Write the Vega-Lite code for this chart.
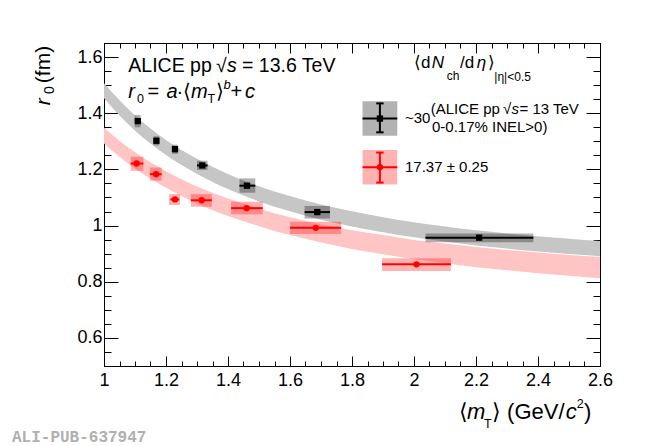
{
  "$schema": "https://vega.github.io/schema/vega-lite/v6.json",
  "width": 496,
  "height": 323,
  "autosize": {"type": "none"},
  "padding": {"left": 104, "top": 43, "right": 50, "bottom": 80},
  "background": "white",
  "config": {
    "view": {"stroke": "black", "strokeWidth": 1},
    "axis": {
      "domainColor": "black",
      "domainWidth": 1,
      "tickColor": "black",
      "tickWidth": 1,
      "labelColor": "black",
      "labelFont": "Liberation Sans",
      "labelFontSize": 18,
      "labelFlush": false,
      "labelOverlap": false,
      "labelBound": false,
      "grid": false,
      "title": null,
      "zindex": 1
    }
  },
  "datasets": {
    "pts": [
      {"set": "b", "role": "data", "x": 1.109, "y": 1.372, "bx1": 1.099, "bx2": 1.118, "by1": 1.350, "by2": 1.394, "hx1": 1.100, "hx2": 1.118, "ey1": 1.364, "ey2": 1.380},
      {"set": "b", "role": "data", "x": 1.169, "y": 1.302, "bx1": 1.160, "bx2": 1.178, "by1": 1.285, "by2": 1.318, "hx1": 1.161, "hx2": 1.177, "ey1": 1.294, "ey2": 1.310},
      {"set": "b", "role": "data", "x": 1.229, "y": 1.272, "bx1": 1.220, "bx2": 1.238, "by1": 1.255, "by2": 1.288, "hx1": 1.221, "hx2": 1.237, "ey1": 1.262, "ey2": 1.282},
      {"set": "b", "role": "data", "x": 1.317, "y": 1.214, "bx1": 1.300, "bx2": 1.334, "by1": 1.198, "by2": 1.231, "hx1": 1.300, "hx2": 1.334, "ey1": 1.207, "ey2": 1.221},
      {"set": "b", "role": "data", "x": 1.461, "y": 1.142, "bx1": 1.437, "bx2": 1.488, "by1": 1.117, "by2": 1.168, "hx1": 1.437, "hx2": 1.488, "ey1": 1.135, "ey2": 1.149},
      {"set": "b", "role": "data", "x": 1.688, "y": 1.048, "bx1": 1.647, "bx2": 1.729, "by1": 1.025, "by2": 1.070, "hx1": 1.647, "hx2": 1.729, "ey1": 1.042, "ey2": 1.054},
      {"set": "b", "role": "data", "x": 2.210, "y": 0.957, "bx1": 2.037, "bx2": 2.385, "by1": 0.941, "by2": 0.972, "hx1": 2.037, "hx2": 2.385, "ey1": 0.951, "ey2": 0.963},
      {"set": "r", "role": "data", "x": 1.105, "y": 1.221, "bx1": 1.086, "bx2": 1.127, "by1": 1.195, "by2": 1.245, "hx1": 1.086, "hx2": 1.127, "ey1": 1.213, "ey2": 1.229},
      {"set": "r", "role": "data", "x": 1.168, "y": 1.183, "bx1": 1.148, "bx2": 1.186, "by1": 1.160, "by2": 1.207, "hx1": 1.148, "hx2": 1.186, "ey1": 1.176, "ey2": 1.190},
      {"set": "r", "role": "data", "x": 1.229, "y": 1.093, "bx1": 1.210, "bx2": 1.245, "by1": 1.073, "by2": 1.112, "hx1": 1.214, "hx2": 1.243, "ey1": 1.088, "ey2": 1.098},
      {"set": "r", "role": "data", "x": 1.315, "y": 1.090, "bx1": 1.280, "bx2": 1.348, "by1": 1.067, "by2": 1.112, "hx1": 1.280, "hx2": 1.348, "ey1": 1.085, "ey2": 1.095},
      {"set": "r", "role": "data", "x": 1.460, "y": 1.062, "bx1": 1.410, "bx2": 1.512, "by1": 1.040, "by2": 1.085, "hx1": 1.410, "hx2": 1.512, "ey1": 1.057, "ey2": 1.067},
      {"set": "r", "role": "data", "x": 1.683, "y": 0.992, "bx1": 1.600, "bx2": 1.765, "by1": 0.970, "by2": 1.014, "hx1": 1.600, "hx2": 1.765, "ey1": 0.987, "ey2": 0.997},
      {"set": "r", "role": "data", "x": 2.008, "y": 0.862, "bx1": 1.897, "bx2": 2.119, "by1": 0.838, "by2": 0.884, "hx1": 1.897, "hx2": 2.119, "ey1": 0.857, "ey2": 0.867},
      {"set": "b", "role": "legend", "x": 1.890, "y": 1.381, "bx1": 1.834, "bx2": 1.946, "by1": 1.320, "by2": 1.443, "hx1": 1.834, "hx2": 1.946, "ey1": 1.332, "ey2": 1.435, "cx1": 1.878, "cx2": 1.902},
      {"set": "r", "role": "legend", "x": 1.890, "y": 1.208, "bx1": 1.834, "bx2": 1.946, "by1": 1.146, "by2": 1.269, "hx1": 1.834, "hx2": 1.946, "ey1": 1.153, "ey2": 1.260, "cx1": 1.878, "cx2": 1.902}
    ],
    "bandB": [
      {"x": 1.0, "lo": 1.453, "hi": 1.507},
      {"x": 1.05, "lo": 1.392, "hi": 1.446},
      {"x": 1.1, "lo": 1.338, "hi": 1.392},
      {"x": 1.15, "lo": 1.292, "hi": 1.346},
      {"x": 1.2, "lo": 1.251, "hi": 1.305},
      {"x": 1.3, "lo": 1.184, "hi": 1.238},
      {"x": 1.4, "lo": 1.130, "hi": 1.184},
      {"x": 1.5, "lo": 1.086, "hi": 1.140},
      {"x": 1.6, "lo": 1.051, "hi": 1.105},
      {"x": 1.7, "lo": 1.021, "hi": 1.075},
      {"x": 1.8, "lo": 0.997, "hi": 1.051},
      {"x": 1.9, "lo": 0.976, "hi": 1.030},
      {"x": 2.0, "lo": 0.958, "hi": 1.012},
      {"x": 2.1, "lo": 0.943, "hi": 0.997},
      {"x": 2.2, "lo": 0.929, "hi": 0.983},
      {"x": 2.3, "lo": 0.918, "hi": 0.972},
      {"x": 2.4, "lo": 0.908, "hi": 0.962},
      {"x": 2.5, "lo": 0.899, "hi": 0.953},
      {"x": 2.6, "lo": 0.891, "hi": 0.945}
    ],
    "bandR": [
      {"x": 1.0, "lo": 1.292, "hi": 1.348},
      {"x": 1.05, "lo": 1.245, "hi": 1.302},
      {"x": 1.1, "lo": 1.203, "hi": 1.261},
      {"x": 1.15, "lo": 1.167, "hi": 1.225},
      {"x": 1.2, "lo": 1.135, "hi": 1.193},
      {"x": 1.3, "lo": 1.079, "hi": 1.139},
      {"x": 1.4, "lo": 1.034, "hi": 1.096},
      {"x": 1.5, "lo": 0.998, "hi": 1.060},
      {"x": 1.6, "lo": 0.966, "hi": 1.030},
      {"x": 1.7, "lo": 0.940, "hi": 1.004},
      {"x": 1.8, "lo": 0.917, "hi": 0.983},
      {"x": 1.9, "lo": 0.898, "hi": 0.966},
      {"x": 2.0, "lo": 0.881, "hi": 0.949},
      {"x": 2.1, "lo": 0.866, "hi": 0.936},
      {"x": 2.2, "lo": 0.852, "hi": 0.924},
      {"x": 2.3, "lo": 0.841, "hi": 0.913},
      {"x": 2.4, "lo": 0.830, "hi": 0.904},
      {"x": 2.5, "lo": 0.821, "hi": 0.895},
      {"x": 2.6, "lo": 0.812, "hi": 0.888}
    ]
  },
  "layer": [
    {
      "data": {"name": "pts"},
      "mark": {"type": "point", "opacity": 0},
      "encoding": {
        "x": {
          "field": "x", "type": "quantitative",
          "scale": {"domain": [1, 2.6], "nice": false, "zero": false},
          "axis": {"orient": "bottom", "values": [1, 1.2, 1.4, 1.6, 1.8, 2, 2.2, 2.4, 2.6], "format": "~g", "tickSize": -10, "labelPadding": 15}
        },
        "y": {
          "field": "y", "type": "quantitative",
          "scale": {"domain": [0.5, 1.65], "nice": false, "zero": false},
          "axis": {"orient": "left", "values": [0.6, 0.8, 1, 1.2, 1.4, 1.6], "format": "~g", "tickSize": -14, "labelPadding": 16}
        }
      }
    },
    {
      "data": {"name": "bandB"},
      "mark": {"type": "area", "color": "#c6c6c6", "interpolate": "monotone"},
      "encoding": {
        "x": {"field": "x", "type": "quantitative", "axis": null},
        "y": {"field": "lo", "type": "quantitative", "axis": null},
        "y2": {"field": "hi"}
      }
    },
    {
      "data": {"name": "bandR"},
      "mark": {"type": "area", "color": "#ffc4c4", "interpolate": "monotone"},
      "encoding": {
        "x": {"field": "x", "type": "quantitative", "axis": null},
        "y": {"field": "lo", "type": "quantitative", "axis": null},
        "y2": {"field": "hi"}
      }
    },
    {
      "data": {"name": "pts"},
      "mark": {"type": "rect", "opacity": 0.3},
      "encoding": {
        "x": {"field": "bx1", "type": "quantitative", "axis": null},
        "x2": {"field": "bx2"},
        "y": {"field": "by1", "type": "quantitative", "axis": null},
        "y2": {"field": "by2"},
        "color": {"field": "set", "type": "nominal", "scale": {"domain": ["b", "r"], "range": ["#000000", "#ff0000"]}, "legend": null}
      }
    },
    {
      "data": {"name": "pts"},
      "mark": {"type": "rule", "strokeWidth": 2},
      "encoding": {
        "x": {"field": "hx1", "type": "quantitative", "axis": null},
        "x2": {"field": "hx2"},
        "y": {"field": "y", "type": "quantitative", "axis": null},
        "color": {"field": "set", "type": "nominal", "legend": null}
      }
    },
    {
      "data": {"name": "pts"},
      "mark": {"type": "rule", "strokeWidth": 2},
      "encoding": {
        "x": {"field": "x", "type": "quantitative", "axis": null},
        "y": {"field": "ey1", "type": "quantitative", "axis": null},
        "y2": {"field": "ey2"},
        "color": {"field": "set", "type": "nominal", "legend": null}
      }
    },
    {
      "data": {"name": "pts"},
      "transform": [{"filter": "datum.role == 'legend'"}],
      "mark": {"type": "rule", "strokeWidth": 2},
      "encoding": {
        "x": {"field": "cx1", "type": "quantitative", "axis": null},
        "x2": {"field": "cx2"},
        "y": {"field": "ey1", "type": "quantitative", "axis": null},
        "color": {"field": "set", "type": "nominal", "legend": null}
      }
    },
    {
      "data": {"name": "pts"},
      "transform": [{"filter": "datum.role == 'legend'"}],
      "mark": {"type": "rule", "strokeWidth": 2},
      "encoding": {
        "x": {"field": "cx1", "type": "quantitative", "axis": null},
        "x2": {"field": "cx2"},
        "y": {"field": "ey2", "type": "quantitative", "axis": null},
        "color": {"field": "set", "type": "nominal", "legend": null}
      }
    },
    {
      "data": {"name": "pts"},
      "mark": {"type": "point", "filled": true, "opacity": 1, "size": 40},
      "encoding": {
        "x": {"field": "x", "type": "quantitative", "axis": null},
        "y": {"field": "y", "type": "quantitative", "axis": null},
        "color": {"field": "set", "type": "nominal", "legend": null},
        "shape": {"field": "set", "type": "nominal", "scale": {"domain": ["b", "r"], "range": ["square", "circle"]}, "legend": null}
      }
    },
    {
      "data": {"values": [
        {"x": 1.0784, "y": 1.5463, "t": "ALICE pp"},
        {"x": 1.3613, "y": 1.5463, "t": "√"},
        {"x": 1.4452, "y": 1.5463, "t": "= 13.6 TeV"}
      ]},
      "mark": {"type": "text", "align": "left", "baseline": "alphabetic", "font": "Liberation Sans", "fontSize": 19.5, "color": "black"},
      "encoding": {
        "x": {"field": "x", "type": "quantitative", "axis": null},
        "y": {"field": "y", "type": "quantitative", "axis": null},
        "text": {"field": "t"}
      }
    },
    {
      "data": {"values": [
        {"x": 1.3968, "y": 1.5463, "t": "s"}
      ]},
      "mark": {"type": "text", "align": "left", "baseline": "alphabetic", "font": "Liberation Sans", "fontSize": 19.5, "fontStyle": "italic", "color": "black"},
      "encoding": {
        "x": {"field": "x", "type": "quantitative", "axis": null},
        "y": {"field": "y", "type": "quantitative", "axis": null},
        "text": {"field": "t"}
      }
    },
    {
      "data": {"values": [
        {"x": 1.1403, "y": 1.4527, "t": "="},
        {"x": 1.2339, "y": 1.4527, "t": "·⟨"},
        {"x": 1.3597, "y": 1.4527, "t": "⟩"},
        {"x": 1.4081, "y": 1.4527, "t": "+"}
      ]},
      "mark": {"type": "text", "align": "left", "baseline": "alphabetic", "font": "Liberation Sans", "fontSize": 20, "color": "black"},
      "encoding": {
        "x": {"field": "x", "type": "quantitative", "axis": null},
        "y": {"field": "y", "type": "quantitative", "axis": null},
        "text": {"field": "t"}
      }
    },
    {
      "data": {"values": [
        {"x": 1.0784, "y": 1.4527, "t": "r"},
        {"x": 1.2016, "y": 1.4527, "t": "a"},
        {"x": 1.2806, "y": 1.4527, "t": "m"},
        {"x": 1.4548, "y": 1.4527, "t": "c"}
      ]},
      "mark": {"type": "text", "align": "left", "baseline": "alphabetic", "font": "Liberation Sans", "fontSize": 20, "fontStyle": "italic", "color": "black"},
      "encoding": {
        "x": {"field": "x", "type": "quantitative", "axis": null},
        "y": {"field": "y", "type": "quantitative", "axis": null},
        "text": {"field": "t"}
      }
    },
    {
      "data": {"values": [
        {"x": 1.1065, "y": 1.4359, "t": "0"},
        {"x": 1.3339, "y": 1.4359, "t": "T"},
        {"x": 2.2258, "y": 0.2783, "t": "T"},
        {"x": 2.5248, "y": 0.3495, "t": "2"}
      ]},
      "mark": {"type": "text", "align": "left", "baseline": "alphabetic", "font": "Liberation Sans", "fontSize": 12.5, "color": "black"},
      "encoding": {
        "x": {"field": "x", "type": "quantitative", "axis": null},
        "y": {"field": "y", "type": "quantitative", "axis": null},
        "text": {"field": "t"}
      }
    },
    {
      "data": {"values": [
        {"x": 1.3855, "y": 1.4858, "t": "b"}
      ]},
      "mark": {"type": "text", "align": "left", "baseline": "alphabetic", "font": "Liberation Sans", "fontSize": 13, "fontStyle": "italic", "color": "black"},
      "encoding": {
        "x": {"field": "x", "type": "quantitative", "axis": null},
        "y": {"field": "y", "type": "quantitative", "axis": null},
        "text": {"field": "t"}
      }
    },
    {
      "data": {"values": [
        {"x": 2.0539, "y": 1.3968, "t": "(ALICE pp"},
        {"x": 2.2871, "y": 1.3968, "t": "√"},
        {"x": 2.3403, "y": 1.3968, "t": "= 13 TeV"},
        {"x": 2.058, "y": 1.3317, "t": "0-0.17% INEL>0)"},
        {"x": 1.971, "y": 1.3637, "t": "~30"},
        {"x": 1.971, "y": 1.1915, "t": "17.37 ± 0.25"}
      ]},
      "mark": {"type": "text", "align": "left", "baseline": "alphabetic", "font": "Liberation Sans", "fontSize": 15, "color": "black"},
      "encoding": {
        "x": {"field": "x", "type": "quantitative", "axis": null},
        "y": {"field": "y", "type": "quantitative", "axis": null},
        "text": {"field": "t"}
      }
    },
    {
      "data": {"values": [
        {"x": 2.3145, "y": 1.3968, "t": "s"}
      ]},
      "mark": {"type": "text", "align": "left", "baseline": "alphabetic", "font": "Liberation Sans", "fontSize": 15, "fontStyle": "italic", "color": "black"},
      "encoding": {
        "x": {"field": "x", "type": "quantitative", "axis": null},
        "y": {"field": "y", "type": "quantitative", "axis": null},
        "text": {"field": "t"}
      }
    },
    {
      "data": {"values": [
        {"x": 2.0, "y": 1.5616, "t": "⟨d"},
        {"x": 2.1484, "y": 1.5616, "t": "/d"},
        {"x": 2.2397, "y": 1.5616, "t": "⟩"}
      ]},
      "mark": {"type": "text", "align": "left", "baseline": "alphabetic", "font": "Liberation Sans", "fontSize": 17, "color": "black"},
      "encoding": {
        "x": {"field": "x", "type": "quantitative", "axis": null},
        "y": {"field": "y", "type": "quantitative", "axis": null},
        "text": {"field": "t"}
      }
    },
    {
      "data": {"values": [
        {"x": 2.0571, "y": 1.5616, "t": "N"},
        {"x": 2.2023, "y": 1.5616, "t": "η"}
      ]},
      "mark": {"type": "text", "align": "left", "baseline": "alphabetic", "font": "Liberation Sans", "fontSize": 17, "fontStyle": "italic", "color": "black"},
      "encoding": {
        "x": {"field": "x", "type": "quantitative", "axis": null},
        "y": {"field": "y", "type": "quantitative", "axis": null},
        "text": {"field": "t"}
      }
    },
    {
      "data": {"values": [
        {"x": 2.1055, "y": 1.5178, "t": "ch"},
        {"x": 2.259, "y": 1.5153, "t": "|η|<0.5"}
      ]},
      "mark": {"type": "text", "align": "left", "baseline": "alphabetic", "font": "Liberation Sans", "fontSize": 12, "color": "black"},
      "encoding": {
        "x": {"field": "x", "type": "quantitative", "axis": null},
        "y": {"field": "y", "type": "quantitative", "axis": null},
        "text": {"field": "t"}
      }
    },
    {
      "data": {"values": [
        {"x": 2.1461, "y": 0.3103, "t": "⟨"},
        {"x": 2.2516, "y": 0.3103, "t": "⟩ (GeV/"},
        {"x": 2.5484, "y": 0.3103, "t": ")"}
      ]},
      "mark": {"type": "text", "align": "left", "baseline": "alphabetic", "font": "Liberation Sans", "fontSize": 22, "color": "black"},
      "encoding": {
        "x": {"field": "x", "type": "quantitative", "axis": null},
        "y": {"field": "y", "type": "quantitative", "axis": null},
        "text": {"field": "t"}
      }
    },
    {
      "data": {"values": [
        {"x": 2.171, "y": 0.3103, "t": "m"},
        {"x": 2.4894, "y": 0.3103, "t": "c"}
      ]},
      "mark": {"type": "text", "align": "left", "baseline": "alphabetic", "font": "Liberation Sans", "fontSize": 22, "fontStyle": "italic", "color": "black"},
      "encoding": {
        "x": {"field": "x", "type": "quantitative", "axis": null},
        "y": {"field": "y", "type": "quantitative", "axis": null},
        "text": {"field": "t"}
      }
    },
    {
      "data": {"values": [
        {"x": 0.8258, "y": 1.4288, "t": "r"}
      ]},
      "mark": {"type": "text", "align": "left", "baseline": "alphabetic", "angle": 270, "font": "Liberation Sans", "fontSize": 21, "fontStyle": "italic", "color": "black"},
      "encoding": {
        "x": {"field": "x", "type": "quantitative", "axis": null},
        "y": {"field": "y", "type": "quantitative", "axis": null},
        "text": {"field": "t"}
      }
    },
    {
      "data": {"values": [
        {"x": 0.8258, "y": 1.507, "t": "(fm)"}
      ]},
      "mark": {"type": "text", "align": "left", "baseline": "alphabetic", "angle": 270, "font": "Liberation Sans", "fontSize": 21, "color": "black"},
      "encoding": {
        "x": {"field": "x", "type": "quantitative", "axis": null},
        "y": {"field": "y", "type": "quantitative", "axis": null},
        "text": {"field": "t"}
      }
    },
    {
      "data": {"values": [
        {"x": 0.8387, "y": 1.468, "t": "0"}
      ]},
      "mark": {"type": "text", "align": "left", "baseline": "alphabetic", "angle": 270, "font": "Liberation Sans", "fontSize": 14, "color": "black"},
      "encoding": {
        "x": {"field": "x", "type": "quantitative", "axis": null},
        "y": {"field": "y", "type": "quantitative", "axis": null},
        "text": {"field": "t"}
      }
    },
    {
      "data": {"values": [
        {"x": 0.7032, "y": 0.2295, "t": "ALI-PUB-637947"}
      ]},
      "mark": {"type": "text", "align": "left", "baseline": "alphabetic", "font": "Liberation Mono", "fontWeight": "bold", "fontSize": 16, "color": "#b0b0b0"},
      "encoding": {
        "x": {"field": "x", "type": "quantitative", "axis": null},
        "y": {"field": "y", "type": "quantitative", "axis": null},
        "text": {"field": "t"}
      }
    },
    {
      "data": {"name": "pts"},
      "mark": {"type": "point", "opacity": 0},
      "encoding": {
        "x": {"field": "x", "type": "quantitative", "axis": {"orient": "bottom", "values": [1.05, 1.1, 1.15, 1.25, 1.3, 1.35, 1.45, 1.5, 1.55, 1.65, 1.7, 1.75, 1.85, 1.9, 1.95, 2.05, 2.1, 2.15, 2.25, 2.3, 2.35, 2.45, 2.5, 2.55], "labels": false, "domain": false, "tickSize": -5}},
        "y": {"field": "y", "type": "quantitative", "axis": {"orient": "left", "values": [0.55, 0.65, 0.7, 0.75, 0.85, 0.9, 0.95, 1.05, 1.1, 1.15, 1.25, 1.3, 1.35, 1.45, 1.5, 1.55], "labels": false, "domain": false, "tickSize": -7}}
      }
    },
    {
      "data": {"name": "pts"},
      "mark": {"type": "point", "opacity": 0},
      "encoding": {
        "x": {"field": "x", "type": "quantitative", "axis": {"orient": "top", "values": [1, 1.2, 1.4, 1.6, 1.8, 2, 2.2, 2.4, 2.6], "labels": false, "tickSize": -10}},
        "y": {"field": "y", "type": "quantitative", "axis": {"orient": "right", "values": [0.6, 0.8, 1, 1.2, 1.4, 1.6], "labels": false, "tickSize": -14}}
      }
    },
    {
      "data": {"name": "pts"},
      "mark": {"type": "point", "opacity": 0},
      "encoding": {
        "x": {"field": "x", "type": "quantitative", "axis": {"orient": "top", "values": [1.05, 1.1, 1.15, 1.25, 1.3, 1.35, 1.45, 1.5, 1.55, 1.65, 1.7, 1.75, 1.85, 1.9, 1.95, 2.05, 2.1, 2.15, 2.25, 2.3, 2.35, 2.45, 2.5, 2.55], "labels": false, "domain": false, "tickSize": -5}},
        "y": {"field": "y", "type": "quantitative", "axis": {"orient": "right", "values": [0.55, 0.65, 0.7, 0.75, 0.85, 0.9, 0.95, 1.05, 1.1, 1.15, 1.25, 1.3, 1.35, 1.45, 1.5, 1.55], "labels": false, "domain": false, "tickSize": -7}}
      }
    }
  ],
  "resolve": {"axis": {"x": "independent", "y": "independent"}}
}
